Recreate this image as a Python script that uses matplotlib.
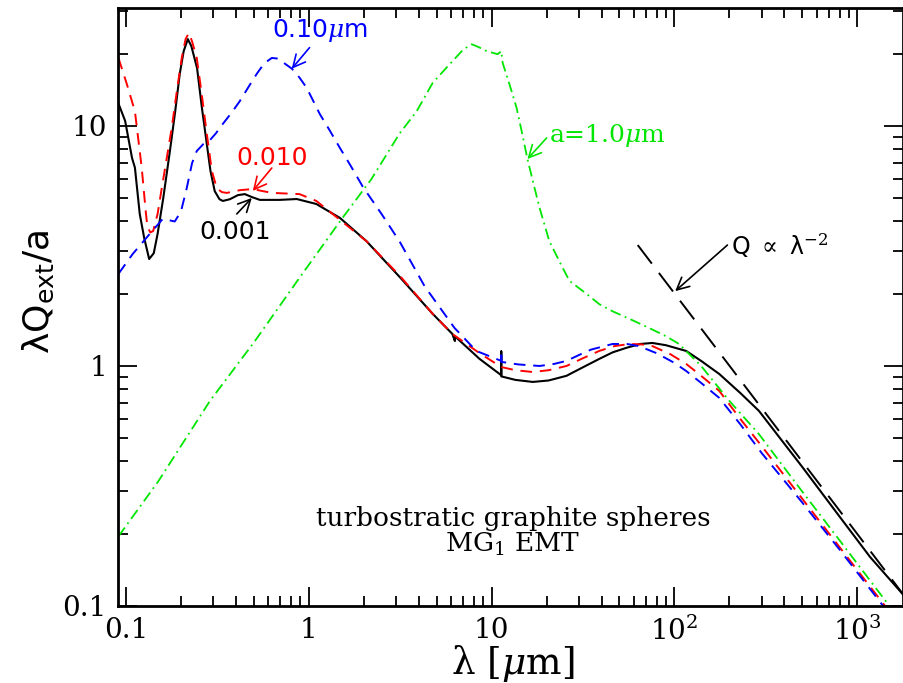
import matplotlib
matplotlib.use("Agg")
import matplotlib.pyplot as plt
from matplotlib.ticker import FixedLocator, NullFormatter

plt.rcParams['mathtext.fontset'] = 'dejavuserif'

# a = 0.001 um (black solid)
lam_001 = [0.091, 0.099, 0.108, 0.112, 0.119, 0.126, 0.134, 0.142, 0.149, 0.16,
           0.174, 0.186, 0.197, 0.207, 0.218, 0.228, 0.245, 0.26, 0.277, 0.29,
           0.306, 0.325, 0.339, 0.37, 0.41, 0.447, 0.49, 0.54, 0.694, 0.86,
           1.1, 1.48, 2.07, 3.14, 4.76, 6.1, 6.3, 6.3, 8.6, 11.3,
           11.3, 11.3, 13.5, 16.8, 20.5, 25.7, 31, 38.8, 46, 54.6,
           65, 75.8, 90, 116, 140, 176, 230, 290, 500, 800,
           1176, 1775, 1900]
val_001 = [12.4, 10.5, 7.35, 6.7, 4.3, 3.4, 2.79, 2.95, 3.55, 5.0,
           7.86, 11.5, 16.5, 20.5, 23.0, 21.5, 17.4, 12.0, 8.4, 6.5,
           5.35, 4.95, 4.87, 4.95, 5.15, 5.2, 5.05, 4.92, 4.92, 4.96,
           4.73, 4.14, 3.31, 2.35, 1.65, 1.36, 1.27, 1.33, 1.07, 0.915,
           1.15, 0.905, 0.875, 0.858, 0.87, 0.91, 0.98, 1.07, 1.14, 1.19,
           1.235, 1.247, 1.22, 1.155, 1.05, 0.926, 0.77, 0.65, 0.38, 0.236,
           0.16, 0.112, 0.105]

# a = 0.010 um (red dashed)
lam_010 = [0.091, 0.101, 0.112, 0.122, 0.128, 0.131, 0.136, 0.141, 0.149, 0.157,
           0.167, 0.178, 0.19, 0.202, 0.212, 0.221, 0.23, 0.244, 0.26, 0.277,
           0.295, 0.314, 0.335, 0.356, 0.42, 0.494, 0.56, 0.635, 0.89, 1.1,
           1.35, 2.07, 3.14, 4.76, 6.1, 8.6, 11.3, 13.5, 16.8, 20.5,
           25.7, 31, 38.8, 47, 56.9, 66, 75.8, 95, 116, 140,
           176, 230, 300, 500, 800, 1420, 1900]
val_010 = [19.2, 15.0, 11.5, 6.7, 4.5, 3.8, 3.6, 3.65, 4.3, 5.5,
           7.3, 9.8, 14.0, 19.2, 23.0, 24.4, 22.5, 19.2, 13.5, 9.25,
           6.5, 5.5, 5.3, 5.26, 5.4, 5.46, 5.35, 5.26, 5.2, 4.87,
           4.3, 3.31, 2.38, 1.65, 1.36, 1.13, 0.99, 0.96, 0.944, 0.96,
           1.0, 1.07, 1.155, 1.21, 1.235, 1.23, 1.21, 1.12, 1.02, 0.91,
           0.787, 0.6, 0.464, 0.28, 0.176, 0.1, 0.074]

# a = 0.10 um (blue dashed)
lam_100 = [0.091, 0.109, 0.135, 0.159, 0.185, 0.2, 0.215, 0.23, 0.244, 0.265,
           0.287, 0.31, 0.339, 0.38, 0.42, 0.47, 0.52, 0.57, 0.628, 0.67,
           0.71, 0.81, 0.89, 0.975, 1.15, 1.3, 1.48, 1.7, 1.97, 2.5,
           3.14, 4.3, 6.27, 8.25, 11.3, 11.3, 11.3, 14, 18.3, 22,
           25.7, 30, 35, 45.9, 55, 64, 80, 100, 116, 140,
           176, 230, 300, 500, 800, 1387, 1900]
val_100 = [2.42, 2.93, 3.55, 4.1, 4.0, 4.4, 5.5, 7.0, 7.86, 8.4,
           8.7, 9.3, 10.2, 11.4, 12.7, 14.6, 16.5, 18.2, 19.2, 19.1,
           18.6, 17.3, 15.9, 14.4, 11.2, 9.6, 8.1, 6.8, 5.6, 4.3,
           3.3, 2.15, 1.44, 1.155, 1.05, 1.155, 1.04, 1.015, 1.0, 1.02,
           1.05, 1.11, 1.17, 1.235, 1.235, 1.21, 1.13, 1.03, 0.953, 0.85,
           0.736, 0.57, 0.434, 0.27, 0.172, 0.1, 0.072]

# a = 1.0 um (green dash-dot)
lam_1000 = [0.091, 0.15, 0.288, 0.5, 0.89, 1.53, 2.2, 3.14, 3.89, 4.76,
            6.1, 7.0, 7.78, 8.5, 9.4, 10.8, 11.3, 11.5, 12.5, 13.7,
            14.7, 15.7, 17, 18.3, 20.7, 24.5, 26.7, 33, 38.8, 45.9,
            58, 72.7, 90, 106, 140, 200, 290, 500, 800, 1500,
            1900]
val_1000 = [0.195, 0.33, 0.715, 1.25, 2.33, 4.14, 6.0, 9.3, 11.5, 15.1,
            18.6, 20.8, 21.9, 21.3, 20.5, 19.9, 20.5, 18.3, 15.0, 11.9,
            9.3, 7.3, 5.7, 4.56, 3.31, 2.56, 2.26, 2.0, 1.81, 1.69,
            1.56, 1.44, 1.33, 1.235, 1.0, 0.715, 0.52, 0.3, 0.188, 0.1,
            0.079]

# Q ~ lambda^-2 reference line
q_lam = [63, 1900]
q_val = [3.19, 0.105]

fig = plt.figure(figsize=(9.04, 6.83), dpi=100)
ax = fig.add_axes([118/904, 1 - 606/683, 785/904, 598/683])

ax.plot(lam_001, val_001, color='black', lw=1.5)
ax.plot(lam_010, val_010, color='#ff0000', lw=1.4, dashes=(6, 4))
ax.plot(lam_100, val_100, color='#0000ff', lw=1.4, dashes=(6, 4))
ax.plot(lam_1000, val_1000, color='#00e600', lw=1.3, dashes=(6, 2.5, 1, 2.5))
ax.plot(q_lam, q_val, color='black', lw=1.4, dashes=(12, 6))

ax.set_xscale('log')
ax.set_yscale('log')
ax.set_xlim(0.0905, 1780)
ax.set_ylim(0.1, 31)

ax.xaxis.set_major_locator(FixedLocator([0.1, 1, 10, 100, 1000]))
ax.set_xticklabels(['0.1', '1', '10', r'$10^2$', r'$10^3$'])
minors_x = [m * 10.0**e for e in range(-2, 4) for m in range(2, 10)]
ax.xaxis.set_minor_locator(FixedLocator(minors_x))
ax.xaxis.set_minor_formatter(NullFormatter())
ax.yaxis.set_major_locator(FixedLocator([0.1, 1, 10]))
ax.set_yticklabels(['0.1', '1', '10'])
minors_y = [m * 10.0**e for e in range(-1, 2) for m in range(2, 10)]
ax.yaxis.set_minor_locator(FixedLocator(minors_y))
ax.yaxis.set_minor_formatter(NullFormatter())

ax.tick_params(which='both', direction='in', top=True, right=True, width=1.3)
ax.tick_params(which='major', length=14, labelsize=20, pad=8)
ax.tick_params(which='minor', length=7)
for lab in ax.get_xticklabels() + ax.get_yticklabels():
    lab.set_family('DejaVu Serif')
for sp in ax.spines.values():
    sp.set_linewidth(2)

ax.set_xlabel(r'λ [$\mu$m]', fontsize=27, family='DejaVu Serif', va='center')
ax.xaxis.set_label_coords(0.503, -(664 - 606) / 598)
ax.set_ylabel(r'λQ$_{\mathsf{ext}}$/a', fontsize=26, family='DejaVu Sans', va='center')
ax.yaxis.set_label_coords((38 - 118) / 785, (606 - 292) / 598)

# curve labels with arrows
arrow = dict(arrowstyle='->', lw=1.2, shrinkA=0, shrinkB=0, mutation_scale=22)
ax.text(1.15, 24.9, r'0.10$\mu$m', color='#0000ff', fontsize=18, ha='center', va='center')
ax.annotate('', xy=(0.807, 17.3), xytext=(1.01, 21.2),
            arrowprops=dict(arrow, color='#0000ff'))
ax.text(0.628, 7.36, '0.010', color='#ff0000', fontsize=18, ha='center', va='center')
ax.annotate('', xy=(0.494, 5.36), xytext=(0.628, 6.68),
            arrowprops=dict(arrow, color='#ff0000'))
ax.text(0.394, 3.62, '0.001', color='black', fontsize=18, ha='center', va='center')
ax.annotate('', xy=(0.488, 5.01), xytext=(0.404, 4.30),
            arrowprops=dict(arrow, color='black'))
ax.text(20.5, 9.1, r'a=1.0$\mu$m', color='#00e600', fontsize=18, ha='left', va='center',
        family='DejaVu Serif')
ax.annotate('', xy=(15.7, 7.28), xytext=(20.0, 8.91),
            arrowprops=dict(arrow, color='#00e600'))
ax.text(203, 3.16, r'Q $\propto$ λ$^{-2}$', color='black', fontsize=17,
        ha='left', va='center')
ax.annotate('', xy=(101, 2.05), xytext=(195, 3.19),
            arrowprops=dict(arrow, color='black'))

ax.text(0.503, 0.147, 'turbostratic graphite spheres', transform=ax.transAxes,
        fontsize=19, ha='center', va='center', family='DejaVu Serif')
ax.text(0.503, 0.103, r'MG$_1$ EMT', transform=ax.transAxes,
        fontsize=19, ha='center', va='center', family='DejaVu Serif')

fig.savefig('out.png', dpi=100)
